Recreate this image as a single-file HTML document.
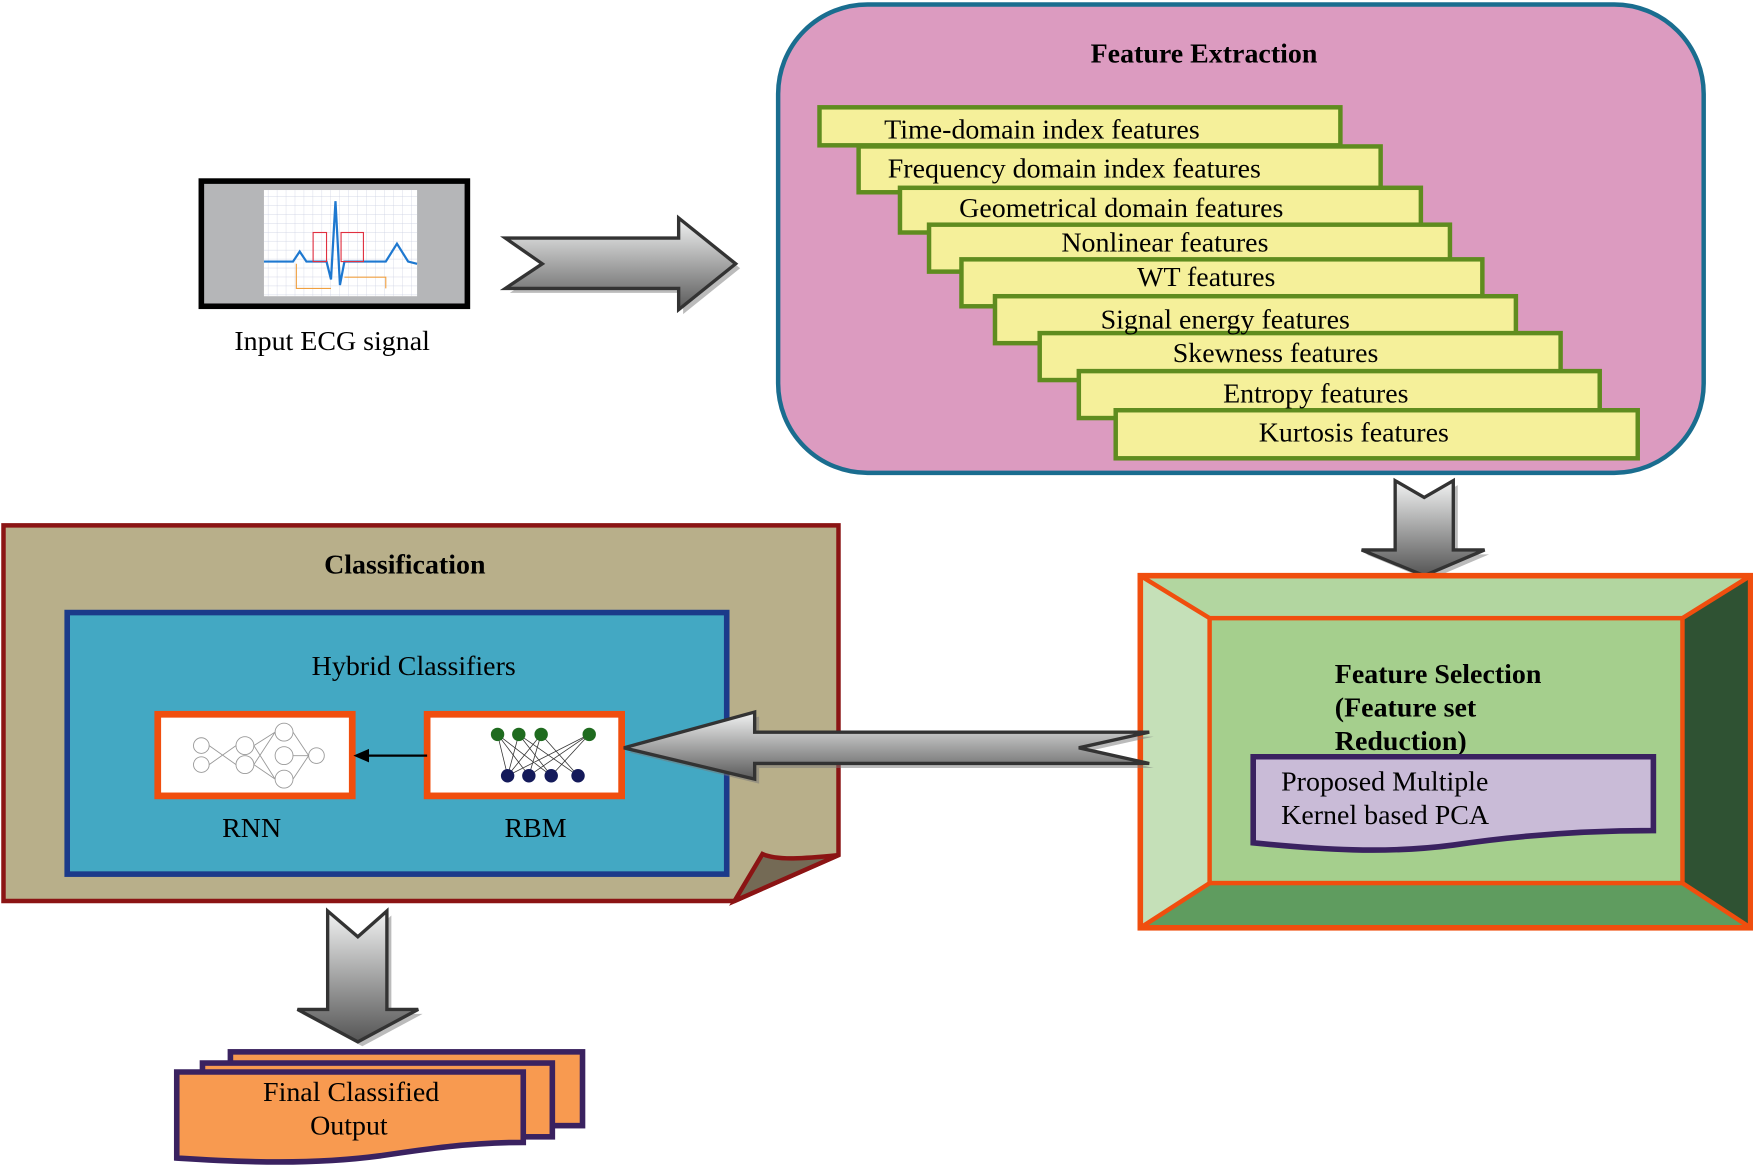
<!DOCTYPE html>
<html><head><meta charset="utf-8"><style>html,body{margin:0;padding:0;background:#fff}svg{display:block}text{font-family:"Liberation Serif",serif;fill:#000}</style></head>
<body>
<svg width="1753" height="1167" viewBox="0 0 1568 1044" xmlns="http://www.w3.org/2000/svg">
<defs>
<linearGradient id="gv" x1="0" y1="0" x2="0" y2="1"><stop offset="0" stop-color="#f2f3f3"/><stop offset="1" stop-color="#555"/></linearGradient>
<linearGradient id="gh" x1="0" y1="0" x2="0" y2="1"><stop offset="0" stop-color="#f2f3f3"/><stop offset="1" stop-color="#5a5a5a"/></linearGradient>
<pattern id="grid" width="8" height="8" patternUnits="userSpaceOnUse"><path d="M8 0V8H0" fill="none" stroke="#c8cde0" stroke-width="0.6"/></pattern>
</defs>

<!-- ECG -->
<rect x="180" y="162" width="238" height="112" fill="#b5b6b8" stroke="#000" stroke-width="5"/>
<rect x="236" y="170" width="137" height="95" fill="#fff"/>
<rect x="236" y="170" width="137" height="95" fill="url(#grid)"/>
<polyline points="236,234 262,234 268,225 274,234 292,234 296,250 300,180 304,255 308,234 345,234 355,218 365,234 373,236" fill="none" stroke="#1e78d0" stroke-width="2"/>
<rect x="280" y="208" width="12" height="26" fill="none" stroke="#e03040" stroke-width="1"/>
<rect x="305" y="208" width="20" height="26" fill="none" stroke="#e03040" stroke-width="1"/>
<path d="M265 236V258H296M308 248H345V258" fill="none" stroke="#f0a040" stroke-width="1"/>
<text x="297" y="313" font-size="25" text-anchor="middle">Input ECG signal</text>

<!-- right arrow -->
<path d="M456 217H611V199L662 240L611 281V262H456L489 240Z" fill="#777" opacity="0.5"/>
<path d="M452 213H607V195L658 236L607 277V258H452L485 236Z" fill="url(#gh)" stroke="#333" stroke-width="3"/>

<!-- Feature Extraction -->
<rect x="696" y="4" width="828" height="419" rx="80" fill="#dc9bc0" stroke="#1a6d8f" stroke-width="4"/>
<text x="1077" y="56" font-size="25" font-weight="bold" text-anchor="middle">Feature Extraction</text>
<g fill="#f5f09a" stroke="#5f8c1f" stroke-width="4">
<rect x="733" y="96" width="466" height="34"/>
<rect x="768" y="131" width="467" height="41"/>
<rect x="805" y="168" width="466" height="40"/>
<rect x="831" y="201" width="466" height="42"/>
<rect x="860" y="232" width="466" height="42"/>
<rect x="890" y="265" width="466" height="42"/>
<rect x="930" y="298" width="466" height="42"/>
<rect x="965" y="332" width="466" height="42"/>
<rect x="998" y="367" width="467" height="43"/>
</g>
<g font-size="25" text-anchor="middle">
<text x="932" y="124">Time-domain index features</text>
<text x="961" y="159">Frequency domain index features</text>
<text x="1003" y="194">Geometrical domain features</text>
<text x="1042" y="225">Nonlinear features</text>
<text x="1079" y="256">WT features</text>
<text x="1096" y="294">Signal energy features</text>
<text x="1141" y="324">Skewness features</text>
<text x="1177" y="360">Entropy features</text>
<text x="1211" y="395">Kurtosis features</text>
</g>

<!-- down arrow top right -->
<path d="M1252 434L1278 449L1304 434V496H1332L1278 519L1222 496H1252Z" fill="#777" opacity="0.5"/>
<path d="M1248 430L1274 445L1300 430V492H1328L1274 515L1218 492H1248Z" fill="url(#gv)" stroke="#333" stroke-width="3"/>

<!-- Feature Selection -->
<rect x="1020" y="515" width="546" height="315" fill="#a5cf8d"/>
<polygon points="1020,515 1566,515 1505,553 1082,553" fill="#b2d6a0"/>
<polygon points="1020,515 1082,553 1082,790 1020,830" fill="#c5e0b8"/>
<polygon points="1566,515 1566,830 1505,790 1505,553" fill="#2f5233"/>
<polygon points="1020,830 1082,790 1505,790 1566,830" fill="#5f9c5f"/>
<g stroke="#f04e0e" stroke-width="4" fill="none">
<rect x="1020" y="515" width="546" height="315" stroke-width="5"/>
<rect x="1082" y="553" width="423" height="237"/>
<path d="M1020 515L1082 553M1566 515L1505 553M1020 830L1082 790M1566 830L1505 790"/>
</g>
<g font-size="25" font-weight="bold"><text x="1194" y="611">Feature Selection</text><text x="1194" y="641">(Feature set</text><text x="1194" y="671">Reduction)</text></g>
<path d="M1121 677H1479V743C1400 743 1340 750 1300 756C1240 764 1180 760 1121 754Z" fill="#c9bbd7" stroke="#3a2260" stroke-width="5"/>
<g font-size="25"><text x="1146" y="707">Proposed Multiple</text><text x="1146" y="737">Kernel based PCA</text></g>

<!-- Classification -->
<path d="M3 470H750V765L657 806H3Z" fill="#b8af8a" stroke="#8b1414" stroke-width="4"/>
<path d="M750 765C720 768 695 770 682 764L657 806Z" fill="#746a55" stroke="#8b1414" stroke-width="4"/>
<text x="362" y="513" font-size="25" font-weight="bold" text-anchor="middle">Classification</text>
<rect x="60" y="548" width="590" height="234" fill="#43a8c3" stroke="#1b3a8a" stroke-width="5"/>
<text x="370" y="604" font-size="25" text-anchor="middle">Hybrid Classifiers</text>
<rect x="141" y="639" width="174" height="73" fill="#fff" stroke="#f04e0e" stroke-width="6"/>
<rect x="382" y="639" width="174" height="73" fill="#fff" stroke="#f04e0e" stroke-width="6"/>
<g fill="none" stroke="#999" stroke-width="0.8">
<circle cx="180" cy="667" r="7"/><circle cx="180" cy="684" r="7"/><circle cx="219" cy="667" r="8"/><circle cx="219" cy="684" r="8"/><circle cx="254" cy="655" r="8"/><circle cx="254" cy="676" r="8"/><circle cx="254" cy="697" r="8"/><circle cx="283" cy="676" r="7"/>
<path d="M187 667L211 684M187 684L211 667M227 667L246 655M227 667L246 697M227 684L246 655M227 684L246 697M262 655L276 676M262 697L276 676M262 676H276"/>
</g>
<g stroke="#333" stroke-width="0.7">
<path d="M445 657L454 694M445 657L473 694M445 657L493 694M464 657L454 694M464 657L493 694M464 657L517 694M484 657L454 694M484 657L473 694M484 657L517 694M527 657L454 694M527 657L473 694M527 657L493 694"/>
</g>
<g fill="#1f6b1f"><circle cx="445" cy="657" r="6"/><circle cx="464" cy="657" r="6"/><circle cx="484" cy="657" r="6"/><circle cx="527" cy="657" r="6"/></g>
<g fill="#141a5a"><circle cx="454" cy="694" r="6"/><circle cx="473" cy="694" r="6"/><circle cx="493" cy="694" r="6"/><circle cx="517" cy="694" r="6"/></g>
<path d="M382 676H328" stroke="#000" stroke-width="2"/>
<path d="M316 676L330 670V682Z" fill="#000"/>
<text x="225" y="749" font-size="25" text-anchor="middle">RNN</text>
<text x="479" y="749" font-size="25" text-anchor="middle">RBM</text>

<!-- left arrow -->
<path d="M1032 659H679V641L562 673L679 701V687H1032L969 673Z" fill="#777" opacity="0.5"/>
<path d="M1028 655H675V637L558 669L675 697V683H1028L965 669Z" fill="url(#gh)" stroke="#333" stroke-width="3"/>

<!-- down arrow bottom -->
<path d="M297 819L324 842L350 819V907H378L324 936L270 907H297Z" fill="#777" opacity="0.5"/>
<path d="M293 815L320 838L346 815V903H374L320 932L266 903H293Z" fill="url(#gv)" stroke="#333" stroke-width="3"/>

<!-- Final output -->
<g fill="#f89a50" stroke="#3a2260" stroke-width="5">
<rect x="206" y="941" width="315" height="66"/>
<rect x="181" y="951" width="313" height="66"/>
<path d="M158 959H468V1022C420 1022 380 1028 340 1034C280 1042 220 1040 158 1036Z"/>
</g>
<g font-size="25" text-anchor="middle"><text x="314" y="985">Final Classified</text><text x="312" y="1015">Output</text></g>
</svg>
</body></html>
